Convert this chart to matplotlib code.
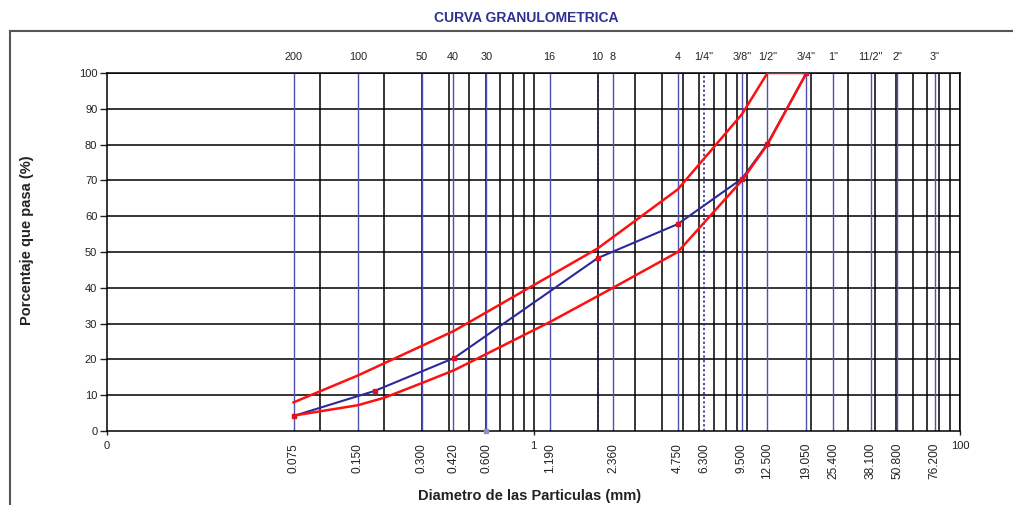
import matplotlib
matplotlib.use("Agg")
import matplotlib.pyplot as plt
from matplotlib import transforms
from matplotlib.lines import Line2D

plt.rcParams["font.family"] = ["Liberation Sans", "DejaVu Sans"]

# sieve openings (mm) with their names
sieve_mm = [0.075, 0.150, 0.300, 0.420, 0.600, 1.190, 2.000, 2.360, 4.750,
            6.300, 9.500, 12.500, 19.050, 25.400, 38.100, 50.800, 76.200]
sieve_top = ["200", "100", "50", "40", "30", "16", "10", "8", "4",
             '1/4"', '3/8"', '1/2"', '3/4"', '1"', '11/2"', '2"', '3"']
sieve_bottom = ["0.075", "0.150", "0.300", "0.420", "0.600", "1.190", "", "2.360", "4.750",
                "6.300", "9.500", "12.500", "19.050", "25.400", "38.100", "50.800", "76.200"]
sieve_dotted = [False, False, False, False, False, False, True, False, False,
                True, False, False, False, False, False, False, False]

# sample curve
muestra_mm = [0.075, 0.180, 0.425, 2.000, 4.750, 9.500, 12.500, 19.050]
muestra_pct = [4.2, 11.2, 20.4, 48.3, 57.8, 70.5, 80.2, 100.0]

# gradation limits
sup_mm = [0.075, 0.150, 0.300, 0.425, 2.000, 4.750, 9.500, 12.500, 19.050]
sup_pct = [8.0, 15.5, 23.8, 28.0, 51.0, 67.5, 88.5, 100.0, 100.0]
inf_mm = [0.075, 0.150, 0.200, 0.300, 0.425, 1.190, 2.360, 4.750, 9.500, 12.500, 19.050]
inf_pct = [4.3, 7.2, 9.3, 13.4, 17.0, 30.4, 40.0, 50.0, 70.0, 80.0, 100.0]

grid_x = [m * 10 ** e for e in (-1, 0, 1) for m in range(1, 10)] + [100]

fig = plt.figure(figsize=(10.13, 5.05), dpi=100)
ax = fig.add_axes([107 / 1013, 74 / 505, 853 / 1013, 358 / 505])

# outer frame of the sheet
fig.add_artist(Line2D([10 / 1013, 10 / 1013], [0, 474 / 505], transform=fig.transFigure,
                      color="#555555", lw=1.5))
fig.add_artist(Line2D([10 / 1013, 1], [474 / 505, 474 / 505], transform=fig.transFigure,
                      color="#555555", lw=1.5))
fig.text(526 / 1013, 487 / 505, "CURVA GRANULOMETRICA", color="#2e3192",
         fontsize=10, fontweight="bold", ha="center", va="center")

ax.set_xscale("log")
ax.set_xlim(0.01, 100)
ax.set_ylim(0, 100)

for y in range(10, 101, 10):
    ax.axhline(y, color="black", lw=1.1, zorder=1)
for x in grid_x:
    ax.axvline(x, color="black", lw=1.1, zorder=1)

trans = transforms.blended_transform_factory(ax.transData, ax.transAxes)
for x, top, bot, dot in zip(sieve_mm, sieve_top, sieve_bottom, sieve_dotted):
    if dot:
        ax.axvline(x, color="#1f1f80", lw=1.1, ls=(0, (1.5, 1.5)), zorder=2)
    else:
        ax.axvline(x, color="#5050b0", lw=1.0, zorder=2)
    ax.text(x, 1.045, top, transform=trans, ha="center", va="center", fontsize=7.8,
            color="#222222")
    if bot:
        ax.text(x, -0.033, bot, transform=trans, ha="center", va="top", rotation=90,
                fontsize=8.6, color="#222222")

ax.plot(muestra_mm, muestra_pct, color="#2a2a9a", lw=1.5, zorder=4)
ax.plot(sup_mm, sup_pct, color="#ff1010", lw=1.8, zorder=5)
ax.plot(inf_mm, inf_pct, color="#ff1010", lw=1.8, zorder=5)
ax.plot(muestra_mm, muestra_pct, ls="none", marker="s", ms=3.5, color="#e01020", zorder=6)
ax.plot([0.6], [0], ls="none", marker="s", ms=3, color="#9090c0", zorder=6, clip_on=False)

ax.set_yticks(range(0, 101, 10))
ax.set_xticks([0.01, 1, 100])
ax.set_xticklabels(["0", "1", "100"])
ax.xaxis.set_minor_locator(matplotlib.ticker.NullLocator())
ax.tick_params(axis="y", direction="out", length=5, width=1, labelsize=8, colors="#222222", pad=2)
ax.tick_params(axis="x", direction="out", length=3, width=1, labelsize=8, colors="#222222", pad=4)
for s in ax.spines.values():
    s.set_linewidth(1.1)

fig.text(27 / 1013, 265 / 505, "Porcentaje que pasa (%)", rotation=90, fontsize=10.5,
         fontweight="bold", color="#222222", ha="center", va="center")
fig.text(530 / 1013, 9 / 505, "Diametro de las Particulas (mm)", fontsize=10.5,
         fontweight="bold", color="#222222", ha="center", va="center")

fig.savefig("out.png", dpi=100)
